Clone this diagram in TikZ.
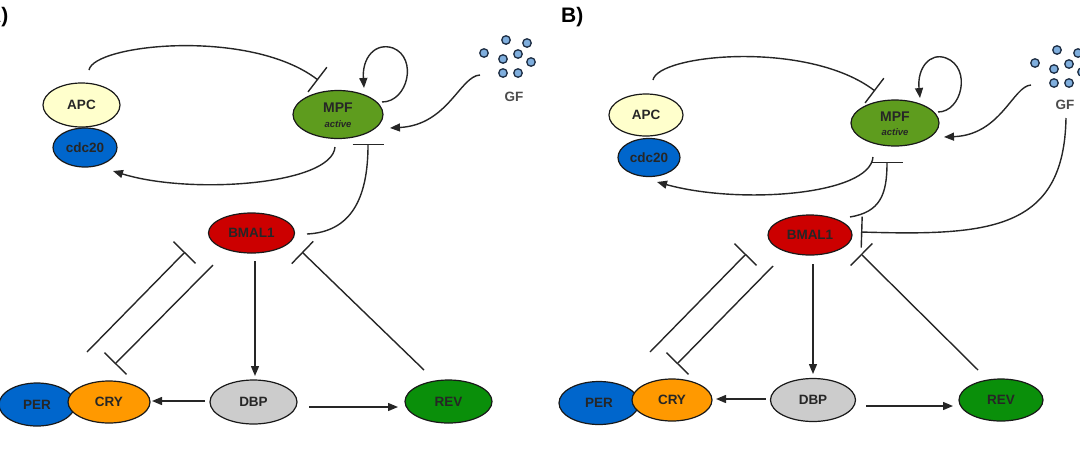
\documentclass[tikz,border=0pt]{standalone}
\usepackage{fontspec}
\setmainfont{Liberation Sans}
\usetikzlibrary{shapes.geometric,arrows.meta,calc}
\definecolor{apcfill}{HTML}{FFFFCC}
\definecolor{bluefill}{HTML}{0066CC}
\definecolor{mpffill}{HTML}{5E9C1E}
\definecolor{bmalfill}{HTML}{CC0000}
\definecolor{cryfill}{HTML}{FF9900}
\definecolor{dbpfill}{HTML}{CCCCCC}
\definecolor{revfill}{HTML}{0A8F0A}
\definecolor{dotfill}{HTML}{7FAEDD}
\definecolor{dotline}{HTML}{1E2E44}
\begin{document}
\begin{tikzpicture}[x=1pt,y=-1pt,
  ell/.style={ellipse,draw=black!90,line width=1.2pt,inner sep=0pt,
    font=\bfseries\fontsize{13.5}{15}\selectfont,text=black!85},
  conn/.style={draw=black!85,line width=1.4pt},
  act/.style={conn,-{Triangle[length=10pt,width=8pt]}},
  inh/.style={conn,-{Bar[width=31pt]}},
  gfdot/.style={circle,draw=dotline,fill=dotfill,line width=1.3pt,minimum size=8.5pt,inner sep=0pt},
  gflab/.style={font=\bfseries\fontsize{13.5}{15}\selectfont,text=black!70,inner sep=0pt},
  mpflab/.style={font=\bfseries\fontsize{14}{15}\selectfont,text=black!85,inner sep=0pt},
  actlab/.style={font=\bfseries\itshape\fontsize{9.5}{10}\selectfont,text=black!85,inner sep=0pt},
  panellab/.style={font=\bfseries\fontsize{21}{24}\selectfont,inner sep=0pt}]
\useasboundingbox (0,0) rectangle (1080,448);

% ---------------- panel A ----------------
\node[panellab,anchor=base east] (labA) at (8.5,22) {A)};
\node[ell,fill=apcfill,minimum width=77pt,minimum height=44pt] (apcA) at (81.5,105) {APC};
\node[ell,fill=bluefill,minimum width=64pt,minimum height=39pt] (cdcA) at (85,147.5) {cdc20};
\node[ell,fill=mpffill,minimum width=90pt,minimum height=48pt] (mpfA) at (338,114.5) {};
\node[mpflab] (mpftA) at ($(mpfA.center)+(0,-6.5)$) {MPF};
\node[actlab] (mpfaA) at ($(mpfA.center)+(0,9.5)$) {active};
\node[ell,fill=bmalfill,minimum width=86pt,minimum height=40pt] (bmalA) at (251.5,233) {BMAL1};
\node[ell,fill=bluefill,minimum width=76pt,minimum height=43pt] (perA) at (37,404.5) {PER};
\node[ell,fill=cryfill,minimum width=82pt,minimum height=42pt] (cryA) at (109,402) {CRY};
\node[ell,fill=dbpfill,minimum width=87pt,minimum height=44pt] (dbpA) at (253.5,402) {DBP};
\node[ell,fill=revfill,minimum width=87pt,minimum height=43pt] (revA) at (448.5,401.5) {REV};
\node[gflab] (gfA) at (514,97) {GF};
\foreach \i/\px/\py in {1/484/53,2/506/40,3/527/43,4/503/59,5/518/54,6/531/62,7/503/73,8/518/73}
  \node[gfdot] (gfA\i) at (\px,\py) {};

\draw[inh] ($(apcA.center)+(7.5,-35)$) .. controls (94,44) and (250,28) .. ($(mpfA.center)+(-20,-34.5)$);
\draw[act] ($(mpfA.center)+(44,-12.5)$) .. controls (408,102) and (418,58) .. (393,48)
   .. controls (375,42) and (362,58) .. ($(mpfA.center)+(26,-26.5)$);
\draw[act] ($(gfA.center)+(-34,-22)$) .. controls (460,76) and (448,125) .. ($(mpfA.center)+(52,13.5)$);
\draw[act] ($(mpfA.center)+(-3,32.5)$) .. controls (332,185) and (190,195) .. ($(cdcA.center)+(28,23.5)$);
\draw[inh] ($(bmalA.center)+(55.5,1)$) .. controls (350,232) and (368,200) .. ($(mpfA.center)+(30,29.5)$);
\draw[act] ($(bmalA.center)+(3.5,28)$) -- ($(dbpA.center)+(1.5,-26)$);
\draw[act] ($(dbpA.center)+(-48.5,-1)$) -- ($(cryA.center)+(43,-1)$);
\draw[act] ($(dbpA.center)+(55.5,5)$) -- ($(revA.center)+(-50.5,5.5)$);
\draw[inh] ($(revA.center)+(-24.5,-31.5)$) -- ($(bmalA.center)+(50.5,19)$);
\draw[inh] ($(cryA.center)+(-22,-50)$) -- ($(bmalA.center)+(-66.5,19)$);
\draw[inh] ($(bmalA.center)+(-38.5,32)$) -- ($(cryA.center)+(6,-38)$);

% ---------------- panel B ----------------
\node[panellab,anchor=base west] (labB) at (561,22) {B)};
\node[ell,fill=apcfill,minimum width=74pt,minimum height=42pt] (apcB) at (646,115) {APC};
\node[ell,fill=bluefill,minimum width=62pt,minimum height=38pt] (cdcB) at (649,157.5) {cdc20};
\node[ell,fill=mpffill,minimum width=88pt,minimum height=46pt] (mpfB) at (895,123) {};
\node[mpflab] (mpftB) at ($(mpfB.center)+(0,-6.5)$) {MPF};
\node[actlab] (mpfaB) at ($(mpfB.center)+(0,9.5)$) {active};
\node[ell,fill=bmalfill,minimum width=84pt,minimum height=40pt] (bmalB) at (810,235) {BMAL1};
\node[ell,fill=bluefill,minimum width=80pt,minimum height=43pt] (perB) at (599,403) {PER};
\node[ell,fill=cryfill,minimum width=80pt,minimum height=42pt] (cryB) at (672,400) {CRY};
\node[ell,fill=dbpfill,minimum width=85pt,minimum height=43pt] (dbpB) at (813,400) {DBP};
\node[ell,fill=revfill,minimum width=84pt,minimum height=42pt] (revB) at (1001,400) {REV};
\node[gflab] (gfB) at (1065,105) {GF};
\foreach \i/\px/\py in {1/1035/63,2/1057/50,3/1078/53,4/1054/69,5/1069/64,6/1082/72,7/1054/83,8/1069/83}
  \node[gfdot] (gfB\i) at (\px,\py) {};

\draw[inh] ($(apcB.center)+(7,-35)$) .. controls (658,54) and (808,40) .. ($(mpfB.center)+(-20,-32)$);
\draw[act] ($(mpfB.center)+(43,-11)$) .. controls (962,112) and (972,68) .. (946,58)
   .. controls (930,52) and (917,68) .. ($(mpfB.center)+(25,-25)$);
\draw[act] ($(gfB.center)+(-34,-20)$) .. controls (1013,86) and (1001,135) .. ($(mpfB.center)+(49,14)$);
\draw[act] ($(mpfB.center)+(-22,34)$) .. controls (870,195) and (740,205) .. ($(cdcB.center)+(8,24.5)$);
\draw[inh] ($(bmalB.center)+(40,-18)$) .. controls (880,212) and (887,195) .. ($(mpfB.center)+(-8,39)$);
\draw[inh] ($(gfB.center)+(1,13)$) .. controls (1064,230) and (990,236) .. ($(bmalB.center)+(51,-3)$);
\draw[act] ($(bmalB.center)+(3,29)$) -- ($(dbpB.center)+(0,-26)$);
\draw[act] ($(dbpB.center)+(-47,-1)$) -- ($(cryB.center)+(44,-1)$);
\draw[act] ($(dbpB.center)+(53,6)$) -- ($(revB.center)+(-48,6)$);
\draw[inh] ($(revB.center)+(-23,-30)$) -- ($(bmalB.center)+(51,19)$);
\draw[inh] ($(cryB.center)+(-22,-48)$) -- ($(bmalB.center)+(-64,19)$);
\draw[inh] ($(bmalB.center)+(-37,31)$) -- ($(cryB.center)+(5,-36)$);
\end{tikzpicture}
\end{document}
